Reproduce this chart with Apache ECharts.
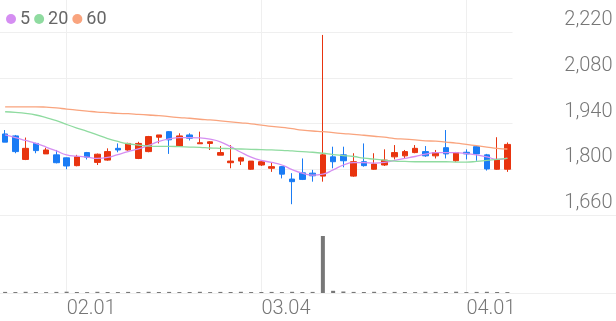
<!DOCTYPE html>
<html>
<head>
<meta charset="utf-8">
<script src="https://cdn.jsdelivr.net/npm/echarts@6/dist/echarts.min.js"></script>
<style>
html,body{margin:0;padding:0;background:#fff;}
#chart{width:616px;height:321px;}
</style>
</head>
<body>
<div id="chart"></div>
<script>
const categories = ['01.24','01.25','01.26','01.29','01.30','01.31',
  '02.01','02.02','02.05','02.06','02.07','02.08','02.13','02.14','02.15','02.16','02.19','02.20','02.21','02.22','02.23','02.26','02.27','02.28','02.29',
  '03.04','03.05','03.06','03.07','03.08','03.11','03.12','03.13','03.14','03.15','03.18','03.19','03.20','03.21','03.22','03.25','03.26','03.27','03.28','03.29',
  '04.01','04.02','04.03','04.04','04.05'];
const tickLabels = ['02.01','03.04','04.01'];
const priceTicks = [1660, 1800, 1940, 2080, 2220];

const opens  = [1908,1902,1830,1879,1847,1844,1835,1811,1851,1821,1828,1864,1859,1833,1854,1898,1915,1871,1905,1878,1879,1843,1820,1825,1800,1813,1803,1808,1770,1789,1788,1779,1838,1844,1779,1823,1800,1813,1838,1841,1851,1854,1841,1866,1826,1852,1869,1844,1800,1800];
const closes = [1883,1854,1864,1857,1859,1820,1810,1838,1837,1846,1854,1859,1879,1879,1900,1905,1890,1902,1895,1881,1884,1851,1825,1835,1825,1823,1808,1785,1762,1769,1780,1844,1823,1826,1823,1811,1816,1828,1851,1854,1864,1841,1851,1847,1851,1847,1847,1801,1830,1876];
const lows   = [1883,1849,1828,1849,1847,1818,1800,1809,1830,1813,1826,1852,1857,1831,1852,1879,1847,1869,1888,1878,1859,1843,1803,1813,1798,1810,1792,1772,1693,1767,1762,1762,1803,1806,1777,1808,1798,1810,1830,1833,1849,1838,1833,1833,1823,1830,1826,1796,1798,1792];
const highs  = [1920,1905,1897,1881,1866,1859,1836,1844,1853,1848,1864,1879,1881,1884,1902,1905,1917,1910,1910,1915,1886,1871,1874,1838,1825,1825,1820,1810,1788,1833,1798,2211,1869,1869,1849,1879,1849,1861,1874,1859,1874,1871,1859,1920,1853,1861,1871,1847,1898,1882];
const volumes = [110000,95000,120000,100000,90000,110000,130000,100000,90000,120000,100000,95000,110000,90000,120000,100000,110000,95000,100000,120000,90000,110000,100000,120000,95000,100000,110000,90000,120000,100000,110000,5700000,220000,150000,110000,100000,120000,95000,110000,100000,90000,120000,110000,100000,130000,95000,110000,120000,100000,90000];
const ma5  = [1905,1897,1888,1879,1868,1856,1844,1840,1837,1833,1836,1845,1854,1862,1873,1885,1893,1897,1897,1896,1892,1884,1869,1852,1837,1827,1821,1813,1799,1788,1782,1785,1798,1813,1820,1820,1819,1821,1827,1833,1839,1846,1851,1851,1851,1848,1844,1838,1830,1834];
const ma20 = [1976,1974,1971,1966,1958,1949,1937,1926,1916,1905,1894,1885,1878,1874,1871,1870,1870,1869,1868,1867,1865,1864,1863,1862,1861,1860,1859,1858,1856,1854,1852,1849,1845,1842,1839,1834,1831,1828,1825,1824,1823,1823,1823,1823,1822,1822,1824,1827,1830,1833];
const ma60 = [1991,1991,1991,1991,1990,1988,1984,1981,1978,1975,1973,1971,1970,1968,1966,1964,1961,1958,1956,1953,1951,1948,1945,1942,1939,1935,1931,1928,1924,1920,1917,1915,1912,1909,1907,1904,1901,1898,1894,1892,1890,1887,1886,1883,1880,1876,1872,1868,1864,1862];

const candleData = opens.map((o, i) => [o, closes[i], lows[i], highs[i]]);
const UP = '#e8340f', DOWN = '#1a7cf5';
const GRID = '#efefef';
const TXT = '#777777';
const FONT = 'Roboto';

const chart = echarts.init(document.getElementById('chart'), null, {renderer: 'canvas'});
chart.setOption({
  animation: false,
  backgroundColor: '#ffffff',
  textStyle: {fontFamily: FONT},
  legend: {
    left: 1, top: 5, itemGap: 4, itemWidth: 10, itemHeight: 10, icon: 'circle',
    textStyle: {color: '#666', fontSize: 18, fontFamily: FONT, padding: [0, 0, 0, -1]},
    data: ['5', '20', '60']
  },
  grid: [
    {left: 0, top: 32, width: 512.5, height: 183},
    {left: 0, top: 215, width: 512.5, height: 78},
    {left: 5.125, top: 0, width: 502.25, height: 293},
    {left: 0, right: 0, top: 215, height: 78}
  ],
  xAxis: [
    {type: 'category', gridIndex: 0, data: categories, boundaryGap: true, show: false},
    {type: 'category', gridIndex: 1, data: categories, boundaryGap: true, show: false},
    {type: 'category', gridIndex: 2, data: categories, boundaryGap: false,
      axisLine: {show: false}, axisTick: {show: false},
      splitLine: {show: true, lineStyle: {color: GRID, width: 1},
        interval: (i, v) => tickLabels.indexOf(v) >= 0},
      axisLabel: {show: true, align: 'left', margin: 6, color: TXT, fontSize: 20, fontFamily: FONT, fontWeight: 300,
        interval: (i, v) => tickLabels.indexOf(v) >= 0}
    },
    {type: 'value', gridIndex: 3, min: 0, max: 1, show: false}
  ],
  yAxis: [
    {type: 'value', gridIndex: 0, position: 'right', min: priceTicks[0], max: priceTicks[priceTicks.length - 1], interval: 140,
      axisLine: {show: false}, axisTick: {show: false},
      splitLine: {show: true, lineStyle: {color: GRID, width: 1}},
      axisLabel: {show: true, align: 'right', margin: 100, verticalAlign: 'bottom', padding: [0, 0, 2, 0],
        color: TXT, fontSize: 20, fontFamily: FONT, fontWeight: 300,
        formatter: v => v.toLocaleString('en-US')}
    },
    {type: 'value', gridIndex: 1, min: 0, max: 7800000, show: false, splitLine: {show: false}},
    {type: 'value', gridIndex: 2, min: 0, max: 1, show: false, splitLine: {show: false}},
    {type: 'value', gridIndex: 3, min: 0, max: 1, interval: 1,
      axisLine: {show: false}, axisTick: {show: false}, axisLabel: {show: false},
      splitLine: {show: true, lineStyle: {color: GRID, width: 1}}}
  ],
  series: [
    {name: 'candle', type: 'candlestick', xAxisIndex: 0, yAxisIndex: 0, data: candleData, barWidth: 6,
      itemStyle: {color: UP, color0: DOWN, borderColor: UP, borderColor0: DOWN, borderWidth: 1}},
    {name: '5', type: 'line', xAxisIndex: 0, yAxisIndex: 0, data: ma5, smooth: true, showSymbol: false,
      color: '#d58ef2', lineStyle: {width: 1.3, color: '#d58ef2'}},
    {name: '20', type: 'line', xAxisIndex: 0, yAxisIndex: 0, data: ma20, smooth: true, showSymbol: false,
      color: '#8fdba0', lineStyle: {width: 1.3, color: '#8fdba0'}},
    {name: '60', type: 'line', xAxisIndex: 0, yAxisIndex: 0, data: ma60, smooth: true, showSymbol: false,
      color: '#f9a47e', lineStyle: {width: 1.3, color: '#f9a47e'}},
    {name: 'volume', type: 'bar', xAxisIndex: 1, yAxisIndex: 1, data: volumes, barWidth: 4,
      itemStyle: {color: '#777777'}}
  ]
});
</script>
</body>
</html>
